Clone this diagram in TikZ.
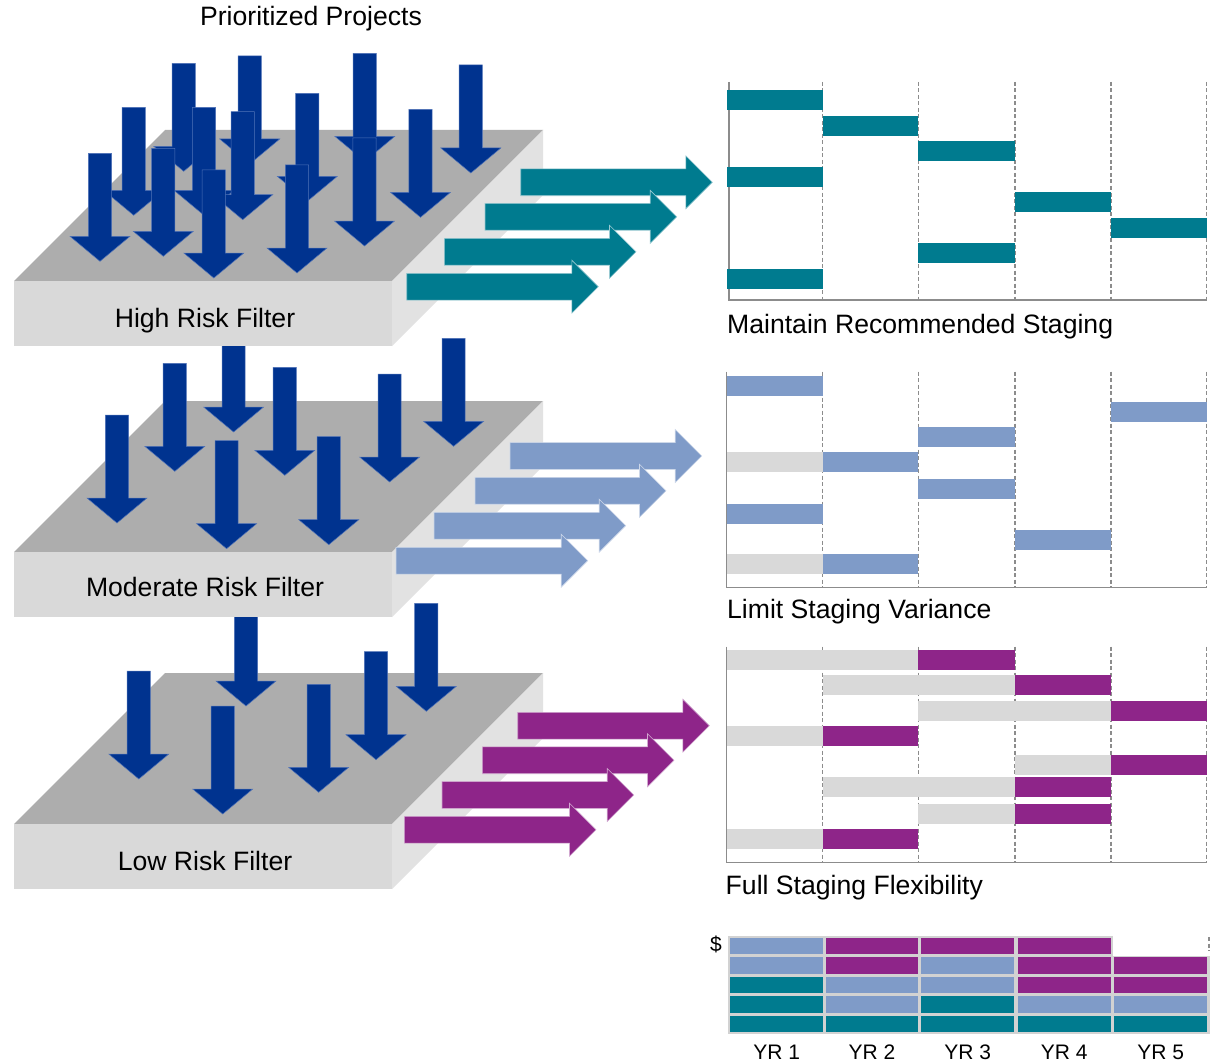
\documentclass[tikz,border=0pt]{standalone}
\usepackage{fontspec}
\setmainfont{Liberation Sans}
\definecolor{cTeal}{HTML}{007B8F}
\definecolor{cBlue}{HTML}{7F9BC8}
\definecolor{cPurp}{HTML}{8E2589}
\definecolor{cBarGray}{HTML}{D9D9D9}
\definecolor{cTop}{HTML}{ADADAD}
\definecolor{cFront}{HTML}{D9D9D9}
\definecolor{cSide}{HTML}{E2E2E2}
\definecolor{cDark}{HTML}{00338F}
\definecolor{cDarkEdge}{HTML}{4F72B8}
\definecolor{cAxis}{HTML}{8C8C8C}
\definecolor{cGrid}{HTML}{D2D2D2}
\newcommand\Slab[1]{%
  \fill[cTop] (14,{281+#1}) -- (392,{281+#1}) -- (543,{130+#1}) -- (165,{130+#1}) -- cycle;
  \fill[cFront] (14,{281+#1}) rectangle (392,{346+#1});
  \fill[cSide] (392,{281+#1}) -- (543,{130+#1}) -- (543,{195+#1}) -- (392,{346+#1}) -- cycle;}
\newcommand\DArr[2]{%
  \filldraw[downarr] ({#1-11.6},{#2}) -- ({#1+11.6},{#2}) -- ({#1+11.6},{#2+83}) -- ({#1+30},{#2+83})
    -- (#1,{#2+108}) -- ({#1-30},{#2+83}) -- ({#1-11.6},{#2+83}) -- cycle;}
\newcommand\HArr[4]{%
  \filldraw[fill=#1, draw=white!60!#1, line width=0.6pt] (#2,{#3-13.4}) -- ({#4-26.5},{#3-13.4}) -- ({#4-26.5},{#3-26.5})
    -- (#4,#3) -- ({#4-26.5},{#3+26.5}) -- ({#4-26.5},{#3+13.4}) -- (#2,{#3+13.4}) -- cycle;}
\begin{document}
\begin{tikzpicture}[x=1pt,y=-1pt,line join=miter,
  downarr/.style={fill=cDark, draw=cDarkEdge, line width=0.5pt},
  lbl/.style={font=\fontsize{26.6}{30}\selectfont, inner sep=0pt, text=black},
  small/.style={font=\fontsize{21}{25}\selectfont, inner sep=0pt, text=black},
  axisline/.style={draw=cAxis, line width=1.3pt},
  gridline/.style={draw=cAxis, line width=1.1pt, dash pattern=on 4pt off 2.5pt}]
\useasboundingbox (0,0) rectangle (1213,1062);
\fill[white] (0,0) rectangle (1213,1062);

% ---------- Low risk slab ----------
\Slab{543}
\foreach \x/\t in {246/598, 426.3/603.3, 376/651.7, 138.8/671, 318.7/684.3, 222.7/706}{\DArr{\x}{\t}}
\node[lbl, anchor=base] (low) at (205,870.7) {Low Risk Filter};

% ---------- Moderate risk slab ----------
\Slab{271}
\foreach \x/\t in {233.6/324, 453.6/338.3, 174.8/363.3, 284.8/367.3, 389.6/374, 117/415, 328.8/436.7, 226.6/440.7}{\DArr{\x}{\t}}
\node[lbl, anchor=base] (mod) at (205,596.7) {Moderate Risk Filter};

% ---------- High risk slab ----------
\Slab{0}
\foreach \x/\t in {364.8/53.3, 249.7/56, 183.7/63.3, 470.8/65, 307.3/93.3, 133.7/107.3, 204/107.3, 420.5/109.3, 242.7/111.7, 364.5/138, 163.3/148.3, 100/153.3, 297/165, 213.8/170}{\DArr{\x}{\t}}
\node[lbl, anchor=base] (high) at (205,327) {High Risk Filter};

\node[lbl, anchor=base] (title) at (311,26) {Prioritized Projects};

% ---------- horizontal arrows ----------
\HArr{cTeal}{520.7}{182.3}{712.3}
\HArr{cTeal}{485}{216.8}{676.7}
\HArr{cTeal}{444.3}{251.8}{636}
\HArr{cTeal}{406.7}{286.7}{598.3}

\HArr{cBlue}{510}{456}{701.7}
\HArr{cBlue}{475}{490.8}{666}
\HArr{cBlue}{434}{525.7}{625.7}
\HArr{cBlue}{396}{560.7}{587.7}

\HArr{cPurp}{517.7}{725.7}{709.3}
\HArr{cPurp}{482.3}{760.3}{674}
\HArr{cPurp}{442}{795}{633.7}
\HArr{cPurp}{404.3}{829.7}{596}

% ---------- chart 1 ----------
\foreach \x in {822.7,918.3,1015,1111,1206.7}{\draw[gridline] (\x,82) -- (\x,300);}
\draw[axisline] (729,82) -- (729,300) -- (1207,300);
\foreach \a/\b/\y in {727/822.7/90, 822.7/918.3/116, 918.3/1015/141, 727/822.7/167, 1015/1111/192.3, 1111/1206.7/218, 918.3/1015/243, 727/822.7/269}
  {\fill[cTeal] (\a,\y) rectangle (\b,{\y+20});}
\node[lbl, anchor=base west] (c1lbl) at (727,333) {Maintain Recommended Staging};

% ---------- chart 2 ----------
\foreach \x in {822.7,918.3,1015,1111,1206.7}{\draw[gridline] (\x,371.7) -- (\x,587.7);}
\draw[axisline] (726.7,371.7) -- (726.7,587.7) -- (1207,587.7);
\foreach \c/\a/\b/\y in {cBlue/727/822.7/376, cBlue/1111/1206.7/402, cBlue/918.3/1015/427,
   cBarGray/727/822.7/452, cBlue/822.7/918.3/452, cBlue/918.3/1015/478.7, cBlue/727/822.7/504,
   cBlue/1015/1111/530, cBarGray/727/822.7/553.7, cBlue/822.7/918.3/553.7}
  {\fill[\c] (\a,\y) rectangle (\b,{\y+20});}
\node[lbl, anchor=base west] (c2lbl) at (727,618.3) {Limit Staging Variance};

% ---------- chart 3 ----------
\foreach \x in {822.7,918.3,1015,1111,1206.7}{\draw[gridline] (\x,646.7) -- (\x,862.7);}
\draw[axisline] (726.7,646.7) -- (726.7,862.7) -- (1207,862.7);
\foreach \g/\p/\q/\y in {727/918.3/1015/650, 822.7/1015/1111/675, 918.3/1111/1206.7/701,
   727/822.7/918.3/726, 1015/1111/1206.7/755, 822.7/1015/1111/777, 918.3/1015/1111/804, 727/822.7/918.3/829}
  {\fill[cBarGray] (\g,\y) rectangle (\p,{\y+20});
   \fill[cPurp] (\p,\y) rectangle (\q,{\y+20});}
\node[lbl, anchor=base west] (c3lbl) at (725.5,894) {Full Staging Flexibility};

% ---------- stacked summary ----------
\fill[cGrid] (728,955.5) rectangle (1210,1034);
\fill[cGrid] (728,936) rectangle (1113,956);
\draw[gridline] (1209,937) -- (1209,951);
\foreach \col/\xa/\xb in {1/730/823.3, 2/825.7/918.3, 3/921/1014.3, 4/1017.7/1111, 5/1114/1207.3}{
  \foreach \row/\ya/\yb in {1/937.7/954.3, 2/957.3/974, 3/976.7/993.3, 4/996/1013, 5/1015.7/1032.3}{
    \pgfmathtruncatemacro\idx{(\row-1)*5+\col}
    \ifcase\idx\or
      \def\cc{cBlue}\or\def\cc{cPurp}\or\def\cc{cPurp}\or\def\cc{cPurp}\or\def\cc{none}\or
      \def\cc{cBlue}\or\def\cc{cPurp}\or\def\cc{cBlue}\or\def\cc{cPurp}\or\def\cc{cPurp}\or
      \def\cc{cTeal}\or\def\cc{cBlue}\or\def\cc{cBlue}\or\def\cc{cPurp}\or\def\cc{cPurp}\or
      \def\cc{cTeal}\or\def\cc{cBlue}\or\def\cc{cTeal}\or\def\cc{cBlue}\or\def\cc{cBlue}\or
      \def\cc{cTeal}\or\def\cc{cTeal}\or\def\cc{cTeal}\or\def\cc{cTeal}\or\def\cc{cTeal}\fi
    \ifnum\idx=5\else\fill[\cc] (\xa,\ya) rectangle (\xb,\yb);\fi
  }}
\node[small, anchor=base] (dollar) at (716,951) {\$};
\foreach \i/\x in {1/776.7, 2/872, 3/967.7, 4/1064.3, 5/1160.7}
  {\node[small, anchor=base] (yr\i) at (\x,1059.5) {YR \i};}
\end{tikzpicture}
\end{document}
